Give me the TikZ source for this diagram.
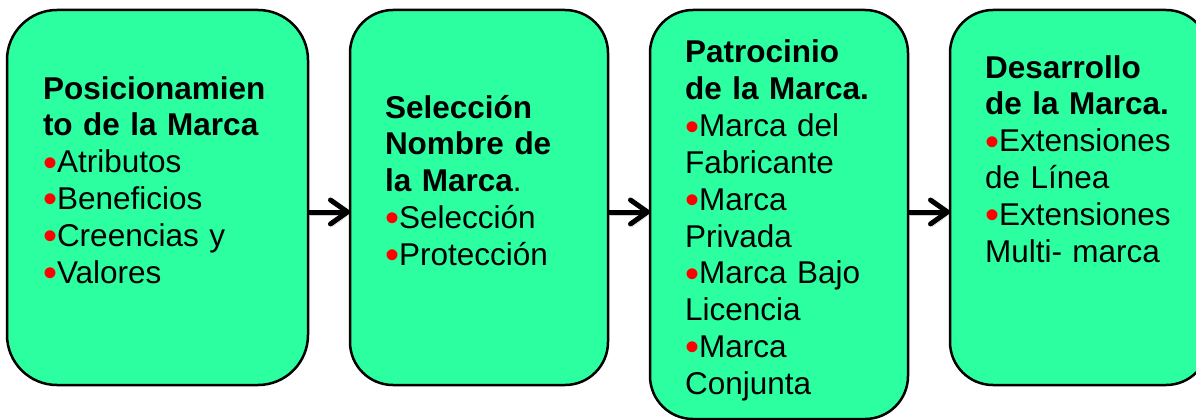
\documentclass[tikz,border=0pt]{standalone}
\usepackage{fontspec}
\setmainfont{Liberation Sans}
\usetikzlibrary{arrows.meta}
\definecolor{boxgreen}{RGB}{43,255,160}
\newcommand\redbullet{\textcolor{red}{\smash{\raisebox{-3.5pt}{\fontsize{40}{36.8}\selectfont •}}}}
\begin{document}
\begin{tikzpicture}[x=1pt,y=-1pt,
  box/.style={draw=black, line width=2.5pt, fill=boxgreen, inner sep=0pt, outer sep=0pt, rectangle},
  txt/.style={anchor=base west, inner sep=0pt, outer sep=0pt, text width=290pt, align=left,
              font=\fontsize{31.5}{36.8}\selectfont},
  arr/.style={line width=5pt,
              -{Straight Barb[length=17pt,width=24pt,line cap=round,line join=round]},
              preaction={draw=black!18, transform canvas={shift={(1.5pt,-3pt)}}}}
]
\useasboundingbox (0,0) rectangle (1196,420);
\clip (0,0) rectangle (1196,420);

\node[box, rounded corners=50pt, minimum width=301pt, minimum height=375pt] (b1) at (157.5,197.5) {};
\node[box, rounded corners=43pt, minimum width=258pt, minimum height=375pt] (b2) at (479,197.5) {};
\node[box, rounded corners=43pt, minimum width=258pt, minimum height=409pt] (b3) at (779,214.5) {};
\node[box, rounded corners=43pt, minimum width=259pt, minimum height=375pt] (b4) at (1079.5,197.5) {};

\node[txt] (t1) at (43,99) {\textbf{Posicionamien}\\\textbf{to de la Marca}\\
  \redbullet Atributos\\\redbullet Beneficios\\\redbullet Creencias y\\\redbullet Valores};
\node[txt] (t2) at (385,118) {\textbf{Selección}\\\textbf{Nombre de}\\\textbf{la Marca}.\\
  \redbullet Selección\\\redbullet Protección};
\node[txt] (t3) at (685,63) {\textbf{Patrocinio}\\\textbf{de la Marca.}\\
  \redbullet Marca del\\Fabricante\\\redbullet Marca\\Privada\\\redbullet Marca Bajo\\Licencia\\\redbullet Marca\\Conjunta};
\node[txt] (t4) at (985,78) {\textbf{Desarrollo}\\\textbf{de la Marca.}\\
  \redbullet Extensiones\\de Línea\\\redbullet Extensiones\\Multi- marca};

\draw[arr] ([yshift=-14.5pt]b1.east) -- ([yshift=-14.5pt]b2.west);
\draw[arr] ([yshift=-14.5pt]b2.east) -- ([yshift=2.5pt]b3.west);
\draw[arr] ([yshift=2.5pt]b3.east) -- ([yshift=-14.5pt]b4.west);
\end{tikzpicture}
\end{document}
